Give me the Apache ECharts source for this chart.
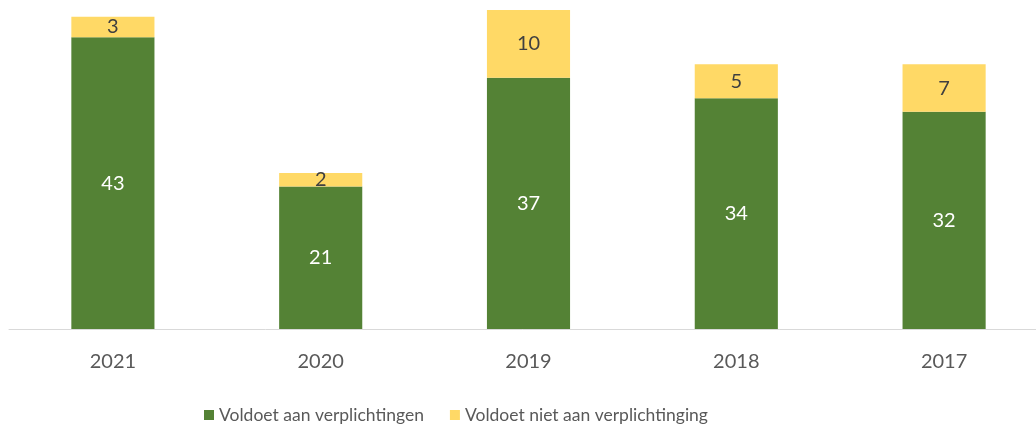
<!DOCTYPE html>
<html>
<head>
<meta charset="utf-8">
<script src="https://cdn.jsdelivr.net/npm/echarts@6/dist/echarts.min.js"></script>
<style>
  html, body { margin: 0; padding: 0; background: #fff; }
  #chart { width: 1036px; height: 425px; }
</style>
</head>
<body>
<div id="chart"></div>
<script>
const years = ["2021", "2020", "2019", "2018", "2017"];
const voldoet = [43, 21, 37, 34, 32];
const voldoetNiet = [3, 2, 10, 5, 7];

const font = "Lato, 'Open Sans', sans-serif";

const chart = echarts.init(document.getElementById("chart"));
chart.setOption({
  animation: false,
  textStyle: { fontFamily: font },
  // plot runs a little past the right edge, like the original
  grid: { left: 9, width: 1039, top: 10, bottom: 96, outerBoundsMode: "none" },
  legend: {
    left: 199,
    top: 401,
    itemWidth: 10,
    itemHeight: 10,
    itemGap: 26,
    itemTextGap: 8,
    icon: "rect",
    textStyle: { fontSize: 17.5, color: "#595959", fontFamily: font },
    data: ["Voldoet aan verplichtingen", "Voldoet niet aan verplichtinging"],
  },
  xAxis: {
    type: "category",
    data: years,
    axisLine: { lineStyle: { color: "#d9d9d9", width: 1 } },
    axisTick: { show: false },
    axisLabel: { fontSize: 20, color: "#595959", margin: 23, fontFamily: font },
  },
  yAxis: {
    type: "value",
    min: 0,
    max: 47,
    show: false,
    splitLine: { show: false },
  },
  series: [
    {
      name: "Voldoet aan verplichtingen",
      type: "bar",
      stack: "total",
      barWidth: "40%",
      data: voldoet,
      itemStyle: { color: "#548235" },
      label: { show: true, position: "inside", color: "#fff", fontSize: 20, fontFamily: font },
    },
    {
      name: "Voldoet niet aan verplichtinging",
      type: "bar",
      stack: "total",
      barWidth: "40%",
      data: voldoetNiet,
      itemStyle: { color: "#ffd966" },
      label: { show: true, position: "inside", color: "#404040", fontSize: 20, fontFamily: font },
    },
  ],
});
</script>
</body>
</html>
